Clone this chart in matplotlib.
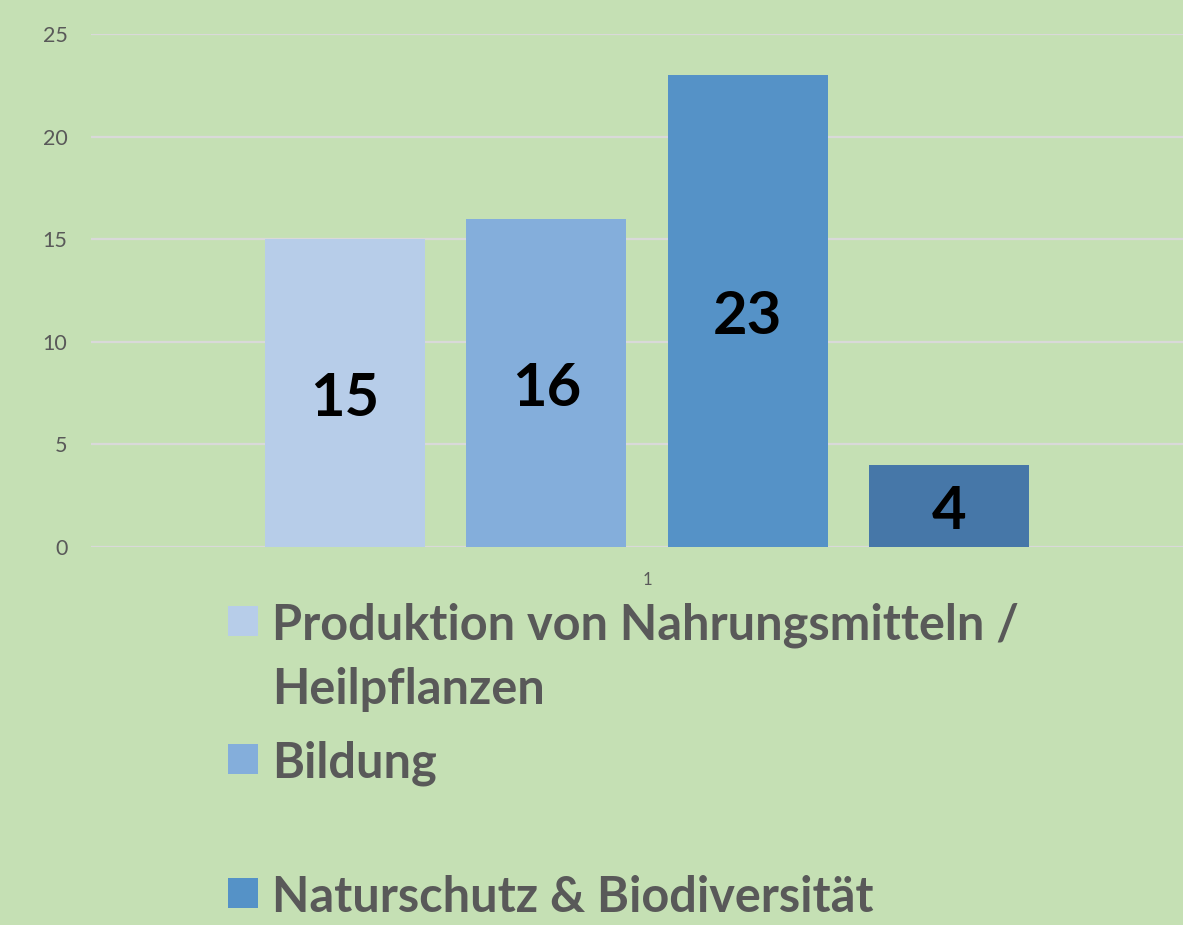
import matplotlib
matplotlib.use("Agg")
import matplotlib.pyplot as plt
import matplotlib.transforms as mtransforms
from matplotlib.patches import Rectangle

# ---- data ----
categories = ["Produktion von Nahrungsmitteln /\nHeilpflanzen", "Bildung",
              "Naturschutz & Biodiversität", "Sonstiges"]
values = [15, 16, 23, 4]
colors = ["#b7cde9", "#84aedb", "#5592c7", "#4677a8"]
group_label = "1"
yticks = [0, 5, 10, 15, 20, 25]

W, H = 1183, 925
BG = "#c5e0b4"
TXT = "#595959"
FONT = "Lato"

fig = plt.figure(figsize=(W / 100, H / 100), dpi=100, facecolor=BG)
# pixel transform (top-left origin)
px = mtransforms.Affine2D().scale(1 / W, -1 / H).translate(0, 1) + fig.transFigure

ax_left, ax_right, ax_top, ax_bot = 91, 1183, 34, 547
ax = fig.add_axes([ax_left / W, 1 - ax_bot / H, (ax_right - ax_left) / W, (ax_bot - ax_top) / H])
ax.set_facecolor(BG)

spacing_px = 201.5
center_px = 647
n = len(values)
offsets = [i - (n - 1) / 2 for i in range(n)]
ax.set_xlim((ax_left - center_px) / spacing_px, (ax_right - center_px) / spacing_px)
ax.set_ylim(0, 25)

bars = ax.bar(offsets, values, width=160 / spacing_px, color=colors, zorder=3)
lbl_tr = mtransforms.offset_copy(ax.transData, fig=fig, x=0, y=-6, units="dots")
for b, v in zip(bars, values):
    ax.text(b.get_x() + b.get_width() / 2, v / 2, str(v), ha="center", va="center",
            fontsize=43, fontweight="bold", family=FONT, color="black", zorder=4,
            transform=lbl_tr)

ax.set_yticks(yticks)
ax.set_yticklabels([str(t) for t in yticks], fontsize=15.5, family=FONT, color=TXT)
ax.yaxis.grid(True, color="#d9d9d9", linewidth=1.6, zorder=0)
ax.set_axisbelow(True)
ax.tick_params(axis="y", length=0, pad=17)
ax.set_xticks([0])
ax.set_xticklabels([group_label], fontsize=12, family=FONT, color=TXT)
ax.tick_params(axis="x", length=0, pad=18)
for s in ax.spines.values():
    s.set_visible(False)

# ---- legend (drawn by hand to match layout; the 4th entry is cut off in the original) ----
legend_baselines = [640, 778, 912]
line_step = 64
for cat, col, base in zip(categories, colors, legend_baselines):
    fig.patches.append(Rectangle((228, base - 34), 30, 30, transform=px,
                                 facecolor=col, edgecolor="none"))
    for k, line in enumerate(cat.split("\n")):
        fig.text(272, base + k * line_step, line, transform=px, ha="left", va="baseline",
                 fontsize=35, fontweight="bold", family=FONT, color=TXT)

fig.savefig("out.png", dpi=100, facecolor=BG)
